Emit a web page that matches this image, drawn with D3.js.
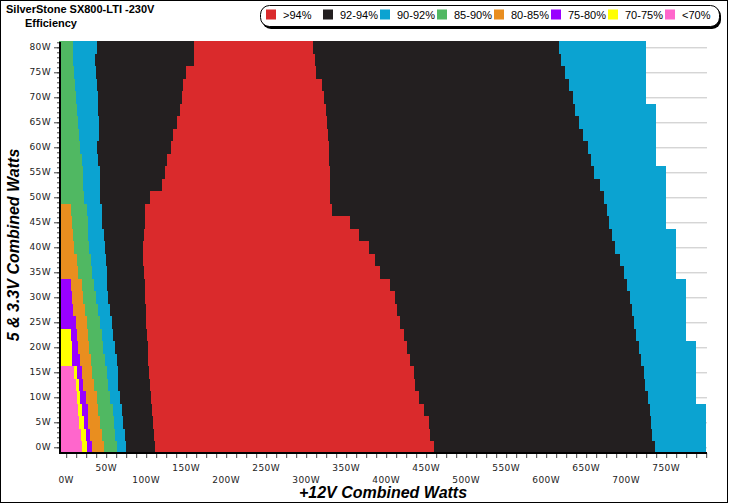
<!DOCTYPE html>
<html>
<head>
<meta charset="utf-8">
<script src="https://d3js.org/d3.v7.min.js"></script>
<style>
  body { margin: 0; background: #fff; }
  svg { display: block; }
</style>
</head>
<body>
<script>
// rows of the map: 5V + 3.3V combined load (W)
var rows5V = [0, 2.5, 5, 7.5, 10, 12.5, 15, 17.5, 20, 22.5, 25, 27.5, 30, 32.5, 35, 37.5,
              40, 42.5, 45, 47.5, 50, 52.5, 55, 57.5, 60, 62.5, 65, 67.5, 70, 72.5, 75, 77.5, 80];

// +12V load (W) where each efficiency zone ends, row by row (null = zone not present)
var pinkEnd   = [20.1, 18.5, 16.0, 15.1, 13.1, 11.9, 10.1, null, null, null, null, null, null, null, null, null,
                 null, null, null, null, null, null, null, null, null, null, null, null, null, null, null, null, null];
var yellowEnd = [26.4, 24.4, 22.6, 20.1, 17.3, 16.0, 13.5, 7.6, 7.6, 6.0, null, null, null, null, null, null,
                 null, null, null, null, null, null, null, null, null, null, null, null, null, null, null, null, null];
var purpleEnd = [31.9, 29.8, 27.6, 26.9, 24.4, 21.4, 19.4, 17.3, 15.1, 13.1, 11.9, 8.9, 7.0, 6.0, null, null,
                 null, null, null, null, null, null, null, null, null, null, null, null, null, null, null, null, null];
var orangeEnd = [47.7, 44.4, 42.3, 40.2, 38.2, 35.2, 32.7, 31.0, 28.5, 27.6, 25.6, 23.5, 21.4, 19.4, 14.4, 13.1,
                 10.1, 8.9, 6.9, 6.0, null, null, null, null, null, null, null, null, null, null, null, null, null];
var greenEnd  = [63.2, 61.0, 60.2, 58.9, 54.8, 52.7, 50.7, 48.5, 46.4, 44.4, 42.3, 39.4, 37.5, 35.2, 32.7, 31.0,
                 28.9, 27.6, 26.9, 25.6, 22.6, 21.4, 20.4, 19.4, 17.3, 16.0, 15.1, 13.1, 12.3, 11.0, 9.8, 8.1, 8.1];
var blueEndL  = [74.4, 73.6, 71.4, 69.4, 67.3, 65.2, 64.4, 63.2, 61.0, 58.9, 56.9, 54.8, 52.3, 50.7, 50.7, 49.4,
                 48.5, 47.7, 45.2, 44.4, 42.3, 42.3, 41.7, 39.2, 38.9, 41.4, 41.0, 40.2, 39.4, 38.2, 37.3, 36.0, 38.2];
var blackEndL = [111.1, 110.2, 109.0, 107.0, 106.1, 104.8, 104.0, 102.7, 102.0, 100.7, 99.5, 99.5, 98.6, 98.6, 97.7, 96.5,
                 96.5, 97.7, 98.6, 98.6, 104.8, 119.5, 123.6, 125.7, 130.7, 134.0, 138.2, 142.4, 144.5, 146.5, 149.9, 160.3, 160.3];
var redEnd    = [459.2, 455.1, 453.0, 446.7, 440.5, 436.3, 434.2, 430.1, 426.0, 421.7, 417.6, 413.5, 411.3, 405.1, 392.6, 386.3,
                 377.9, 365.4, 355.0, 332.1, 330.0, 330.0, 330.0, 329.1, 327.9, 327.1, 325.9, 325.0, 322.5, 319.6, 312.5, 311.3, 308.4];
var blackEndR = [735.4, 732.5, 731.2, 729.5, 727.0, 724.1, 721.9, 718.7, 715.7, 712.8, 709.4, 707.4, 705.3, 701.2, 697.8, 692.8,
                 686.5, 682.4, 678.8, 676.5, 671.9, 666.9, 659.4, 656.1, 652.4, 646.1, 640.6, 636.5, 633.1, 628.1, 624.0, 618.6, 616.5];
var blueEndR  = [800, 800, 800, 800, 787.5, 787.5, 787.5, 787.5, 787.5, 775, 775, 775, 775, 775, 762.5, 762.5,
                 762.5, 762.5, 750, 750, 750, 750, 750, 737.5, 737.5, 737.5, 737.5, 737.5, 725, 725, 725, 725, 725];

var legendLabels = ['>94%', '92-94%', '90-92%', '85-90%', '80-85%', '75-80%', '70-75%', '<70%'];
var yTicks = [0, 5, 10, 15, 20, 25, 30, 35, 40, 45, 50, 55, 60, 65, 70, 75, 80];
var xTicks = [0, 50, 100, 150, 200, 250, 300, 350, 400, 450, 500, 550, 600, 650, 700, 750];

var col = {
  red: '#da2a2c', black: '#231f20', blue: '#0ba3d1', green: '#50b862',
  orange: '#e98e1f', purple: '#9900ff', yellow: '#ffff00', pink: '#ff66cc'
};
var legendColors = [col.red, col.black, col.blue, col.green, col.orange, col.purple, col.yellow, col.pink];

// zones left to right across each row
var zones = [
  { ends: pinkEnd, color: col.pink },
  { ends: yellowEnd, color: col.yellow },
  { ends: purpleEnd, color: col.purple },
  { ends: orangeEnd, color: col.orange },
  { ends: greenEnd, color: col.green },
  { ends: blueEndL, color: col.blue },
  { ends: blackEndL, color: col.black },
  { ends: redEnd, color: col.red },
  { ends: blackEndR, color: col.black },
  { ends: blueEndR, color: col.blue }
];

var svg = d3.select('body').append('svg')
    .attr('width', 729)
    .attr('height', 504);

var x = d3.scaleLinear().domain([-9, 801]).range([59, 707]);
var y = d3.scaleLinear().domain([0, 80]).range([447.3, 47.3]);
var half = 1.25;

// frame
svg.append('rect')
    .attr('x', 0.5).attr('y', 0.5)
    .attr('width', 727).attr('height', 502)
    .attr('fill', '#fff').attr('stroke', '#000');

// gridlines
svg.append('g').selectAll('line')
    .data(yTicks)
    .enter().append('line')
    .attr('x1', x(-9)).attr('x2', x(801))
    .attr('y1', function(d) { return y(d) + 0.5; })
    .attr('y2', function(d) { return y(d) + 0.5; })
    .attr('stroke', '#c4c4c4');

// build cells
var cells = [];
rows5V.forEach(function(w, i) {
  var start = x.domain()[0];
  zones.forEach(function(z) {
    var e = z.ends[i];
    if (e == null) return;
    cells.push({ w: w, x0: start, x1: e, color: z.color });
    start = e;
  });
});

svg.append('g')
    .attr('shape-rendering', 'crispEdges')
    .selectAll('rect')
    .data(cells)
    .enter().append('rect')
    .attr('x', function(d) { return x(d.x0); })
    .attr('y', function(d) { return y(d.w + half); })
    .attr('width', function(d) { return x(d.x1) - x(d.x0); })
    .attr('height', function(d) { return y(d.w - half) - y(d.w + half); })
    .attr('fill', function(d) { return d.color; });

// y axis
var yMinor = [];
for (var k = 0; k <= 81; k++) yMinor.push(k);

var yMinorAxis = svg.append('g')
    .attr('transform', 'translate(60,0)')
    .call(d3.axisLeft(y).tickValues(yMinor).tickSize(3).tickFormat(''));
var yAxis = svg.append('g')
    .attr('transform', 'translate(60,0)')
    .call(d3.axisLeft(y).tickValues(yTicks).tickSize(6).tickPadding(3)
      .tickFormat(function(d) { return d + 'W'; }));

[yMinorAxis, yAxis].forEach(function(g) {
  g.select('.domain').remove();
  g.selectAll('line').attr('stroke', '#444');
});
yAxis.selectAll('text')
    .attr('fill', '#222')
    .attr('dy', '0.2em')
    .style('font', '9px "DejaVu Sans", sans-serif')
    .style('letter-spacing', '0.4px');

svg.append('line')
    .attr('x1', 60).attr('x2', 60)
    .attr('y1', 42).attr('y2', 454)
    .attr('stroke', '#000').attr('stroke-width', 2);

// x axis
var xMinor = [];
for (var m = 0; m <= 64; m++) xMinor.push(m * 12.5);

var xAxis = svg.append('g')
    .attr('transform', 'translate(0,453)')
    .call(d3.axisBottom(x).tickValues(xMinor).tickSize(5).tickFormat(''));
xAxis.select('.domain').remove();
xAxis.selectAll('line').attr('stroke', '#444');

svg.append('line')
    .attr('x1', 59).attr('x2', 707)
    .attr('y1', 453).attr('y2', 453)
    .attr('stroke', '#000').attr('stroke-width', 2);

svg.append('g').selectAll('text')
    .data(xTicks)
    .enter().append('text')
    .attr('x', function(d) { return x(d); })
    .attr('y', function(d) { return d % 100 === 0 ? 483 : 471; })
    .attr('text-anchor', 'middle')
    .attr('fill', '#222')
    .style('font', '9px "DejaVu Sans", sans-serif')
    .style('letter-spacing', '0.4px')
    .text(function(d) { return d + 'W'; });

// axis titles
svg.append('text')
    .attr('x', 383).attr('y', 498)
    .attr('text-anchor', 'middle')
    .style('font', 'italic bold 16px "Liberation Sans", Arial, sans-serif')
    .text('+12V Combined Watts');

svg.append('text')
    .attr('transform', 'translate(19,245) rotate(-90)')
    .attr('text-anchor', 'middle')
    .style('font', 'italic bold 16px "Liberation Sans", Arial, sans-serif')
    .text('5 & 3.3V Combined Watts');

// title
svg.append('text')
    .attr('x', 6).attr('y', 12.5)
    .style('font', 'bold 11px "Liberation Sans", Arial, sans-serif')
    .text('SilverStone SX800-LTI -230V');
svg.append('text')
    .attr('x', 25).attr('y', 26.5)
    .style('font', 'bold 11px "Liberation Sans", Arial, sans-serif')
    .text('Efficiency');

// legend
var lg = svg.append('g');
lg.append('rect')
    .attr('x', 262).attr('y', 7)
    .attr('width', 459).attr('height', 22)
    .attr('rx', 9).attr('ry', 9)
    .attr('fill', '#000');
lg.append('rect')
    .attr('x', 260.5).attr('y', 5.5)
    .attr('width', 459).attr('height', 21)
    .attr('rx', 9).attr('ry', 9)
    .attr('fill', '#fff').attr('stroke', '#000');

var items = lg.selectAll('g.item')
    .data(legendLabels)
    .enter().append('g')
    .attr('class', 'item')
    .attr('transform', function(d, i) { return 'translate(' + (266 + i * 57) + ',9.5)'; });
items.append('rect')
    .attr('width', 10).attr('height', 10)
    .attr('fill', function(d, i) { return legendColors[i]; });
items.append('text')
    .attr('x', 17).attr('y', 9)
    .style('font', '11px "Liberation Sans", Arial, sans-serif')
    .text(function(d) { return d; });
</script>
</body>
</html>
